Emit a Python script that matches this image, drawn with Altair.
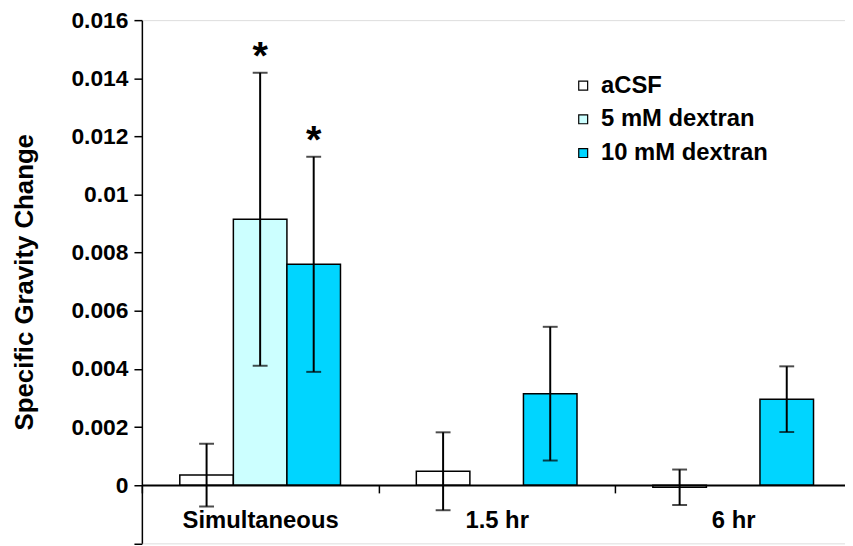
import altair as alt
import pandas as pd

# ---- data ----
times = ["Simultaneous", "Simultaneous", "Simultaneous", "1.5 hr", "1.5 hr", "6 hr", "6 hr"]
treatments = ["aCSF", "5 mM dextran", "10 mM dextran", "aCSF", "10 mM dextran", "aCSF", "10 mM dextran"]
means = [0.00035, 0.00915, 0.0076, 0.00048, 0.00315, -0.00007, 0.00296]
errors = [0.00108, 0.00504, 0.0037, 0.00134, 0.0023, 0.00061, 0.00113]
starred = [False, True, True, False, False, False, False]

time_order = ["Simultaneous", "1.5 hr", "6 hr"]
treat_order = ["aCSF", "5 mM dextran", "10 mM dextran"]
treat_colors = ["#FFFFFF", "#CCFFFF", "#00D5FF"]
y_ticks = [-0.002, 0, 0.002, 0.004, 0.006, 0.008, 0.01, 0.012, 0.014, 0.016]

df = pd.DataFrame({
    "time": times, "treatment": treatments, "mean": means, "err": errors, "star": starred
})
df["lo"] = df["mean"] - df["err"]
df["hi"] = df["mean"] + df["err"]
df["mark"] = df["star"].map(lambda s: "*" if s else "")

FONT = "Liberation Sans"
H = 527.6
W = 709

x_enc = alt.X("time:N", sort=time_order,
              scale=alt.Scale(domain=time_order, range=[0, 715.5], paddingInner=0, paddingOuter=0),
              axis=alt.Axis(title=None, tickBand="extent", tickSize=8, tickWidth=1.5, tickColor="black",
                            domainColor="black", domainWidth=2, offset=-58.9,
                            labelFont=FONT, labelFontSize=24, labelFontWeight="bold", labelColor="black",
                            labelPadding=16, labelAngle=0, labelLimit=400, zindex=1))
xo_enc = alt.XOffset("treatment:N", sort=treat_order,
                     scale=alt.Scale(domain=treat_order, paddingOuter=0.708, paddingInner=0))
y_scale = alt.Scale(domain=[-0.002, 0.016], nice=False, zero=False)

bars = alt.Chart(df).mark_bar(stroke="black", strokeWidth=1.5).encode(
    x=x_enc,
    xOffset=xo_enc,
    y=alt.Y("mean:Q", scale=y_scale, stack=None,
            axis=alt.Axis(title="Specific Gravity Change", values=y_ticks,
                          labelExpr="datum.value < 0 ? '' : format(datum.value, '.3~f')",
                          grid=False, tickSize=8, tickWidth=1.5, tickColor="black",
                          domainColor="black", domainWidth=1.5,
                          labelFont=FONT, labelFontSize=23, labelFontWeight="bold", labelColor="black",
                          labelPadding=6,
                          titleFont=FONT, titleFontSize=26, titleFontWeight="bold", titleColor="black",
                          titleX=-118, titleY=H / 2, titleBaseline="middle", titleAngle=270)),
    y2=alt.Y2(datum=0),
    fill=alt.Fill("treatment:N", sort=treat_order,
                  scale=alt.Scale(domain=treat_order, range=treat_colors),
                  legend=alt.Legend(title=None, orient="none", legendX=433, legendY=54,
                                    symbolType="square", symbolSize=81,
                                    symbolStrokeColor="black", symbolStrokeWidth=1.2,
                                    labelFont=FONT, labelFontSize=24, labelFontWeight="bold",
                                    labelColor="black", labelOffset=6, labelLimit=400,
                                    rowPadding=10, padding=0)),
)

rules = alt.Chart(df).mark_rule(color="black", strokeWidth=2).encode(
    x=alt.X("time:N", sort=time_order),
    xOffset=alt.XOffset("treatment:N", sort=treat_order),
    y=alt.Y("lo:Q", scale=y_scale),
    y2="hi:Q",
)
caps_hi = alt.Chart(df).mark_tick(color="black", thickness=2, size=15).encode(
    x=alt.X("time:N", sort=time_order),
    xOffset=alt.XOffset("treatment:N", sort=treat_order),
    y=alt.Y("hi:Q", scale=y_scale),
)
caps_lo = alt.Chart(df).mark_tick(color="black", thickness=2, size=15).encode(
    x=alt.X("time:N", sort=time_order),
    xOffset=alt.XOffset("treatment:N", sort=treat_order),
    y=alt.Y("lo:Q", scale=y_scale),
)
stars = alt.Chart(df).mark_text(font=FONT, fontSize=40, fontWeight="bold", color="black",
                                baseline="alphabetic", dy=-4).encode(
    x=alt.X("time:N", sort=time_order),
    xOffset=alt.XOffset("treatment:N", sort=treat_order),
    y=alt.Y("hi:Q", scale=y_scale),
    text="mark:N",
)

chart = alt.layer(bars, rules, caps_hi, caps_lo, stars).properties(
    width=W, height=H,
    padding={"left": 135, "top": 10, "right": 0, "bottom": 0},
    autosize=alt.AutoSizeParams(type="none"),
).configure_view(stroke=None).configure(background="white")

chart.save("out.html", embed_options={"renderer": "svg", "actions": False})
